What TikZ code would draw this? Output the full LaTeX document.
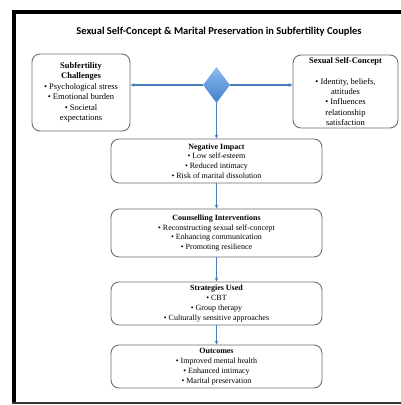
\documentclass[tikz,border=0pt]{standalone}
\usepackage{fontspec}
\setmainfont{Liberation Serif}
\newfontfamily\titlefont{Carlito}
\usetikzlibrary{arrows.meta,shapes.geometric}
\definecolor{flowblue}{HTML}{4A7EBB}
\definecolor{boxgray}{HTML}{6E6E6E}
\definecolor{hubtop}{HTML}{8DBBEE}
\definecolor{hubbottom}{HTML}{3F7FCC}
\begin{document}
\begin{tikzpicture}[x=1pt, y=-1pt,
    box/.style={draw=boxgray, line width=0.9pt, rounded corners=8pt, align=center, inner sep=2pt, font=\fontsize{8}{9.8}\selectfont},
    sidebox/.style={box, font=\fontsize{8.5}{10.4}\selectfont},
    stepbox/.style={box, minimum width=211pt},
    link/.style={draw=flowblue, line width=1.1pt, -{Stealth[length=4pt, width=3.5pt]}}]
            \useasboundingbox (0,0) rectangle (401,405);
            \fill[white] (0,0) rectangle (401,405);
            \draw[line width=4pt] (14,404) -- (14,12) -- (405,12);
            \draw[line width=1.5pt, black!80] (12,403) -- (405,403);
            \node[font=\titlefont\bfseries\fontsize{10.5}{12}\selectfont] (title) at (219,32) {Sexual Self-Concept \& Marital Preservation in Subfertility Couples};
            \node[sidebox, minimum width=98pt, minimum height=77pt] (challenges) at (81,92.5) {\textbf{Subfertility}\\\textbf{Challenges}\\• Psychological stress\\• Emotional burden\\• Societal\\expectations};
            \node[sidebox, minimum width=105pt, minimum height=73pt] (concept) at (345.5,91.5) {\textbf{Sexual Self-Concept}\\[10.4pt]• Identity, beliefs,\\attitudes\\• Influences\\relationship\\satisfaction};
            \node[diamond, draw=none, top color=hubtop, bottom color=hubbottom, minimum width=27pt, minimum height=36pt, inner sep=0pt] (hub) at (216.5,85) {};
            \node[stepbox, minimum height=44pt] (impact) at (216.5,161) {\textbf{Negative Impact}\\• Low self-esteem\\• Reduced intimacy\\• Risk of marital dissolution};
            \node[stepbox, minimum height=48pt] (counselling) at (216.5,233) {\textbf{Counselling Interventions}\\• Reconstructing sexual self-concept\\• Enhancing communication\\• Promoting resilience};
            \node[stepbox, minimum height=43pt] (strategies) at (216.5,303.5) {\textbf{Strategies Used}\\• CBT\\• Group therapy\\• Culturally sensitive approaches};
            \node[stepbox, minimum height=43pt] (outcomes) at (216.5,366.5) {\textbf{Outcomes}\\• Improved mental health\\• Enhanced intimacy\\• Marital preservation};
            \draw[link] (hub.west) -- (hub.west -| challenges.east);
            \draw[link] (hub.east) -- (hub.east -| concept.west);
            \draw[link] (hub.south) -- (hub.south |- impact.north);
            \draw[link] (impact) -- (counselling);
            \draw[link] (counselling) -- (strategies);
            \draw[link] (strategies) -- (outcomes);
        \end{tikzpicture}
\end{document}
